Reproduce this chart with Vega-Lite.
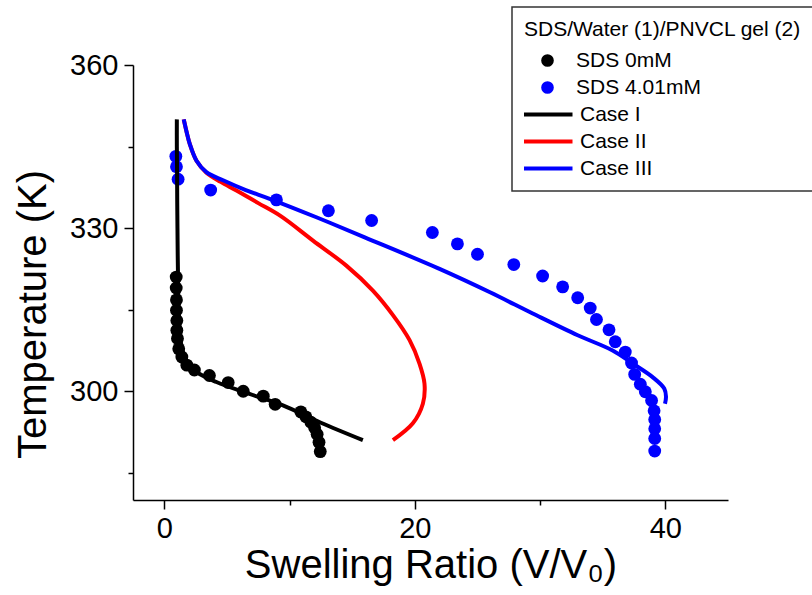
{
  "$schema": "https://vega.github.io/schema/vega-lite/v6.json",
  "width": 595,
  "height": 435,
  "autosize": "none",
  "padding": {"left": 133, "top": 65, "right": 84, "bottom": 95},
  "background": "white",
  "config": {
    "view": {"stroke": null},
    "font": "Liberation Sans",
    "axis": {
      "grid": false,
      "domainColor": "black",
      "tickColor": "black",
      "labelColor": "black",
      "titleColor": "black",
      "labelFont": "Liberation Sans",
      "titleFont": "Liberation Sans",
      "labelFontSize": 29,
      "titleFontSize": 40,
      "titleFontWeight": "normal",
      "domainWidth": 1.5,
      "tickWidth": 1.5
    },
    "legend": {
      "orient": "none", "legendX": 379, "legendY": -58,
      "padding": 12, "strokeColor": "#333333", "fillColor": "white",
      "titleFont": "Liberation Sans", "titleFontSize": 21, "titleFontWeight": "normal", "titleColor": "black",
      "labelFont": "Liberation Sans", "labelFontSize": 21, "labelColor": "black",
      "titlePadding": 10, "rowPadding": 5, "clipHeight": 21, "symbolSize": 160,
      "symbolOffset": 13, "labelOffset": 18, "labelLimit": 400, "titleLimit": 400
    }
  },
  "data": {
    "values": [
      {"series": "SDS 0mM", "v": 0.95, "T": 321.0},
      {"series": "SDS 0mM", "v": 0.95, "T": 319.0},
      {"series": "SDS 0mM", "v": 0.97, "T": 316.8},
      {"series": "SDS 0mM", "v": 0.97, "T": 314.9},
      {"series": "SDS 0mM", "v": 1.0, "T": 313.0},
      {"series": "SDS 0mM", "v": 1.0, "T": 311.2},
      {"series": "SDS 0mM", "v": 1.05, "T": 309.7},
      {"series": "SDS 0mM", "v": 1.15, "T": 307.8},
      {"series": "SDS 0mM", "v": 1.4, "T": 306.3},
      {"series": "SDS 0mM", "v": 1.8, "T": 304.8},
      {"series": "SDS 0mM", "v": 2.4, "T": 303.9},
      {"series": "SDS 0mM", "v": 3.6, "T": 302.9},
      {"series": "SDS 0mM", "v": 5.1, "T": 301.6},
      {"series": "SDS 0mM", "v": 6.3, "T": 300.0},
      {"series": "SDS 0mM", "v": 7.9, "T": 299.1},
      {"series": "SDS 0mM", "v": 8.85, "T": 297.6},
      {"series": "SDS 0mM", "v": 10.9, "T": 296.2},
      {"series": "SDS 0mM", "v": 11.3, "T": 295.3},
      {"series": "SDS 0mM", "v": 11.7, "T": 294.3},
      {"series": "SDS 0mM", "v": 12.0, "T": 293.3},
      {"series": "SDS 0mM", "v": 12.2, "T": 292.1},
      {"series": "SDS 0mM", "v": 12.35, "T": 290.6},
      {"series": "SDS 0mM", "v": 12.45, "T": 288.9},
      {"series": "SDS 4.01mM", "v": 0.92, "T": 343.2},
      {"series": "SDS 4.01mM", "v": 0.97, "T": 341.3},
      {"series": "SDS 4.01mM", "v": 1.1, "T": 339.0},
      {"series": "SDS 4.01mM", "v": 3.7, "T": 337.0},
      {"series": "SDS 4.01mM", "v": 8.95, "T": 335.2},
      {"series": "SDS 4.01mM", "v": 13.1, "T": 333.2},
      {"series": "SDS 4.01mM", "v": 16.55, "T": 331.4},
      {"series": "SDS 4.01mM", "v": 21.4, "T": 329.2},
      {"series": "SDS 4.01mM", "v": 23.4, "T": 327.1},
      {"series": "SDS 4.01mM", "v": 25.0, "T": 325.2},
      {"series": "SDS 4.01mM", "v": 27.9, "T": 323.3},
      {"series": "SDS 4.01mM", "v": 30.2, "T": 321.2},
      {"series": "SDS 4.01mM", "v": 31.8, "T": 319.2},
      {"series": "SDS 4.01mM", "v": 33.0, "T": 317.2},
      {"series": "SDS 4.01mM", "v": 34.0, "T": 315.3},
      {"series": "SDS 4.01mM", "v": 34.5, "T": 313.2},
      {"series": "SDS 4.01mM", "v": 35.5, "T": 311.3},
      {"series": "SDS 4.01mM", "v": 36.0, "T": 309.1},
      {"series": "SDS 4.01mM", "v": 36.8, "T": 307.2},
      {"series": "SDS 4.01mM", "v": 37.3, "T": 305.2},
      {"series": "SDS 4.01mM", "v": 37.55, "T": 303.1},
      {"series": "SDS 4.01mM", "v": 38.0, "T": 301.3},
      {"series": "SDS 4.01mM", "v": 38.4, "T": 299.9},
      {"series": "SDS 4.01mM", "v": 38.9, "T": 298.3},
      {"series": "SDS 4.01mM", "v": 39.1, "T": 296.4},
      {"series": "SDS 4.01mM", "v": 39.15, "T": 294.8},
      {"series": "SDS 4.01mM", "v": 39.15, "T": 293.1},
      {"series": "SDS 4.01mM", "v": 39.15, "T": 291.3},
      {"series": "SDS 4.01mM", "v": 39.15, "T": 289.0},
      {"series": "Case I", "v": 1.0, "T": 350.0},
      {"series": "Case I", "v": 1.0, "T": 345.0},
      {"series": "Case I", "v": 1.02, "T": 340.0},
      {"series": "Case I", "v": 1.03, "T": 335.0},
      {"series": "Case I", "v": 1.05, "T": 330.0},
      {"series": "Case I", "v": 1.07, "T": 325.0},
      {"series": "Case I", "v": 1.1, "T": 320.0},
      {"series": "Case I", "v": 1.15, "T": 315.0},
      {"series": "Case I", "v": 1.25, "T": 311.0},
      {"series": "Case I", "v": 1.4, "T": 308.0},
      {"series": "Case I", "v": 1.8, "T": 305.5},
      {"series": "Case I", "v": 2.6, "T": 303.5},
      {"series": "Case I", "v": 4.16, "T": 301.7},
      {"series": "Case I", "v": 6.8, "T": 299.5},
      {"series": "Case I", "v": 9.47, "T": 297.4},
      {"series": "Case I", "v": 12.5, "T": 294.2},
      {"series": "Case I", "v": 15.85, "T": 291.0},
      {"series": "Case II", "v": 1.55, "T": 350.0},
      {"series": "Case II", "v": 1.8, "T": 347.5},
      {"series": "Case II", "v": 2.03, "T": 345.5},
      {"series": "Case II", "v": 2.57, "T": 342.4},
      {"series": "Case II", "v": 3.36, "T": 340.2},
      {"series": "Case II", "v": 4.5, "T": 338.5},
      {"series": "Case II", "v": 5.76, "T": 336.9},
      {"series": "Case II", "v": 7.5, "T": 334.6},
      {"series": "Case II", "v": 9.3, "T": 332.2},
      {"series": "Case II", "v": 11.87, "T": 327.7},
      {"series": "Case II", "v": 14.53, "T": 323.1},
      {"series": "Case II", "v": 16.65, "T": 318.5},
      {"series": "Case II", "v": 18.25, "T": 314.0},
      {"series": "Case II", "v": 19.58, "T": 309.4},
      {"series": "Case II", "v": 20.37, "T": 305.1},
      {"series": "Case II", "v": 20.77, "T": 301.4},
      {"series": "Case II", "v": 20.64, "T": 297.7},
      {"series": "Case II", "v": 19.84, "T": 294.1},
      {"series": "Case II", "v": 18.25, "T": 291.0},
      {"series": "Case III", "v": 1.55, "T": 350.0},
      {"series": "Case III", "v": 1.8, "T": 347.5},
      {"series": "Case III", "v": 2.03, "T": 345.5},
      {"series": "Case III", "v": 2.57, "T": 342.4},
      {"series": "Case III", "v": 3.36, "T": 340.3},
      {"series": "Case III", "v": 4.69, "T": 338.8},
      {"series": "Case III", "v": 6.5, "T": 337.0},
      {"series": "Case III", "v": 8.41, "T": 335.4},
      {"series": "Case III", "v": 12.14, "T": 332.0},
      {"series": "Case III", "v": 16.0, "T": 328.3},
      {"series": "Case III", "v": 21.97, "T": 322.5},
      {"series": "Case III", "v": 26.0, "T": 318.2},
      {"series": "Case III", "v": 29.41, "T": 314.3},
      {"series": "Case III", "v": 33.0, "T": 310.3},
      {"series": "Case III", "v": 35.79, "T": 307.5},
      {"series": "Case III", "v": 37.39, "T": 305.1},
      {"series": "Case III", "v": 38.98, "T": 302.6},
      {"series": "Case III", "v": 39.91, "T": 300.5},
      {"series": "Case III", "v": 40.05, "T": 299.0},
      {"series": "Case III", "v": 39.97, "T": 297.7}
    ]
  },
  "encoding": {
    "x": {
      "field": "v",
      "type": "quantitative",
      "scale": {"domain": [-2.5, 45], "nice": false, "zero": false},
      "axis": {
        "title": "Swelling Ratio (V/V₀)",
        "values": [0, 10, 20, 30, 40],
        "labelExpr": "datum.value % 20 === 0 ? datum.label : ''",
        "tickSize": {"condition": {"test": "datum.value % 20 === 0", "value": 9}, "value": 5},
        "labelPadding": 5,
        "labelFlush": false,
        "labelOverlap": false,
        "titleBaseline": "alphabetic",
        "titleX": 297.5,
        "titleY": 77,
        "titleAnchor": "middle"
      }
    },
    "y": {
      "field": "T",
      "type": "quantitative",
      "scale": {"domain": [280, 360], "nice": false, "zero": false},
      "axis": {
        "title": "Temperature (K)",
        "values": [285, 300, 315, 330, 345, 360],
        "labelExpr": "datum.value % 30 === 0 ? datum.label : ''",
        "tickSize": {"condition": {"test": "datum.value % 30 === 0", "value": 9}, "value": 5},
        "labelPadding": 6,
        "labelFlush": false,
        "labelOverlap": false,
        "titleBaseline": "alphabetic",
        "titleAngle": -90,
        "titleX": -88,
        "titleY": 249
      }
    },
    "color": {
      "field": "series", "type": "nominal",
      "scale": {"domain": ["SDS 0mM", "SDS 4.01mM", "Case I", "Case II", "Case III"], "range": ["#000000", "#0000ff", "#000000", "#ff0000", "#0000ff"]},
      "legend": {
        "title": "SDS/Water (1)/PNVCL gel (2)",
        "encode": {
          "symbols": {
            "update": {
              "size": {"signal": "(datum.value == 'SDS 0mM' || datum.value == 'SDS 4.01mM') ? 160 : 2500"},
              "strokeWidth": {"signal": "(datum.value == 'SDS 0mM' || datum.value == 'SDS 4.01mM') ? 0 : 4"},
              "stroke": {"signal": "scale('color', datum.value)"},
              "fill": {"signal": "scale('color', datum.value)"},
              "opacity": {"value": 1}
            }
          },
          "labels": {
            "update": {
              "dx": {"signal": "(datum.value == 'SDS 0mM' || datum.value == 'SDS 4.01mM') ? 0 : 4"}
            }
          },
          "legend": {"update": {"strokeWidth": {"value": 1.5}}}
        }
      }
    }
  },
  "layer": [
    {
      "transform": [{"filter": {"field": "series", "oneOf": ["SDS 0mM", "SDS 4.01mM"]}}],
      "mark": {"type": "point", "filled": true, "opacity": 1, "size": 165, "strokeWidth": 0},
      "encoding": {
        "shape": {
          "field": "series", "type": "nominal",
          "scale": {"domain": ["SDS 0mM", "SDS 4.01mM", "Case I", "Case II", "Case III"], "range": ["circle", "circle", "stroke", "stroke", "stroke"]},
          "legend": {
            "title": "SDS/Water (1)/PNVCL gel (2)",
            "encode": {
              "symbols": {
                "update": {
                  "size": {"signal": "(datum.value == 'SDS 0mM' || datum.value == 'SDS 4.01mM') ? 160 : 2500"},
                  "strokeWidth": {"signal": "(datum.value == 'SDS 0mM' || datum.value == 'SDS 4.01mM') ? 0 : 4"},
                  "stroke": {"signal": "scale('color', datum.value)"},
                  "fill": {"signal": "scale('color', datum.value)"},
                  "opacity": {"value": 1}
                }
              },
              "labels": {
                "update": {
                  "dx": {"signal": "(datum.value == 'SDS 0mM' || datum.value == 'SDS 4.01mM') ? 0 : 4"}
                }
              },
              "legend": {"update": {"strokeWidth": {"value": 1.5}}}
            }
          }
        }
      }
    },
    {
      "transform": [{"filter": {"field": "series", "oneOf": ["Case I", "Case II", "Case III"]}}],
      "mark": {"type": "line", "strokeWidth": 4, "interpolate": "catmull-rom"},
      "encoding": {
        "order": {"field": "T", "sort": "descending"}
      }
    }
  ]
}
